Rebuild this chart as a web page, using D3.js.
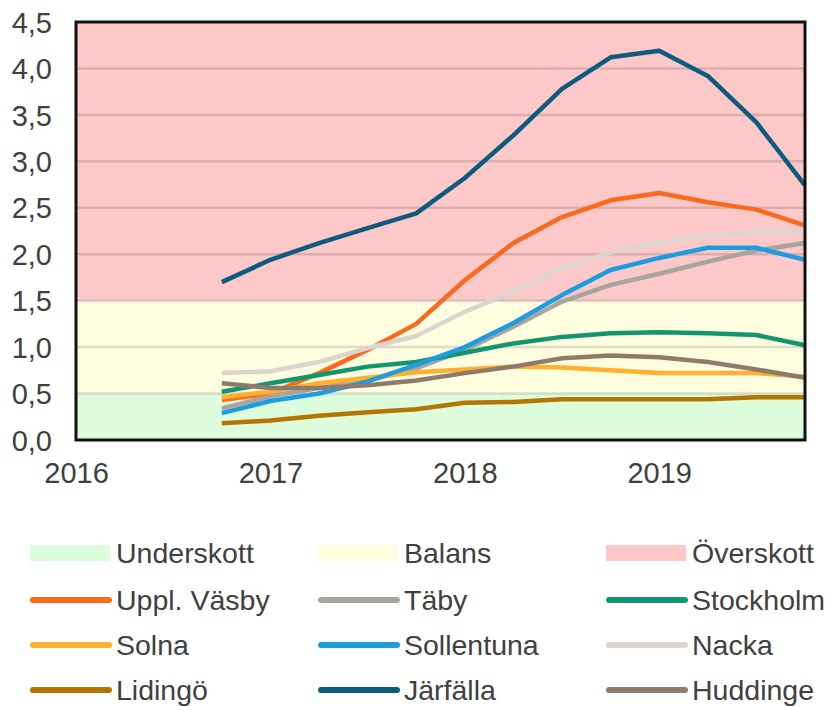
<!DOCTYPE html>
<html>
<head>
<meta charset="utf-8">
<script src="https://cdn.jsdelivr.net/npm/d3@7"></script>
<style>
    body { margin: 0; background: #fff; }
    svg text { font-family: "Liberation Sans", Arial, sans-serif; fill: #404040; }
</style>
</head>
<body>
<svg id="chart" width="834" height="706"></svg>
<script>
// Quarter positions (Q4 2016 .. Q4 2019) in decimal years
const quarters = [2016.75, 2017.0, 2017.25, 2017.5, 2017.75, 2018.0, 2018.25, 2018.5, 2018.75, 2019.0, 2019.25, 2019.5, 2019.75];
const yearTicks = [2016, 2017, 2018, 2019];
const valueTicks = [0, 0.5, 1, 1.5, 2, 2.5, 3, 3.5, 4, 4.5];

const bands = [
    { name: "Underskott", from: 0, to: 0.5, color: "#dcfcdc" },
    { name: "Balans", from: 0.5, to: 1.5, color: "#fffde0" },
    { name: "Överskott", from: 1.5, to: 4.5, color: "#fcc8c8" }
];

const municipalities = ["Uppl. Väsby", "Täby", "Stockholm", "Solna", "Sollentuna", "Nacka", "Lidingö", "Järfälla", "Huddinge"];
const colors = ["#fa6a1e", "#aaa49e", "#12966f", "#ffb02e", "#1d9ddf", "#dcd5cd", "#b57502", "#0d5b7e", "#8f7b6b"];

const upplVasby  = [0.43, 0.50, 0.72, 0.97, 1.25, 1.72, 2.12, 2.40, 2.58, 2.66, 2.56, 2.48, 2.31];
const taby       = [0.34, 0.47, 0.56, 0.64, 0.77, 0.97, 1.22, 1.49, 1.67, 1.79, 1.92, 2.04, 2.12];
const stockholm  = [0.52, 0.61, 0.70, 0.79, 0.84, 0.94, 1.04, 1.11, 1.15, 1.16, 1.15, 1.13, 1.02];
const solna      = [0.46, 0.52, 0.61, 0.67, 0.73, 0.76, 0.79, 0.78, 0.75, 0.72, 0.72, 0.72, 0.68];
const sollentuna = [0.29, 0.42, 0.50, 0.63, 0.81, 1.00, 1.26, 1.56, 1.83, 1.96, 2.07, 2.07, 1.94];
const nacka      = [0.72, 0.74, 0.84, 0.99, 1.12, 1.38, 1.60, 1.85, 2.02, 2.13, 2.20, 2.24, 2.24];
const lidingo    = [0.18, 0.21, 0.26, 0.30, 0.33, 0.40, 0.41, 0.44, 0.44, 0.44, 0.44, 0.46, 0.46];
const jarfalla   = [1.70, 1.94, 2.12, 2.28, 2.44, 2.82, 3.28, 3.78, 4.12, 4.19, 3.92, 3.42, 2.74];
const huddinge   = [0.61, 0.56, 0.56, 0.59, 0.64, 0.72, 0.79, 0.88, 0.91, 0.89, 0.84, 0.76, 0.67];

const seriesValues = [upplVasby, taby, stockholm, solna, sollentuna, nacka, lidingo, jarfalla, huddinge];

const svg = d3.select("#chart");
const plot = { left: 76, right: 805, top: 22, bottom: 440 };

const x = d3.scaleLinear().domain([2016, 2019.75]).range([plot.left, plot.right]);
const y = d3.scaleLinear().domain([0, 4.5]).range([plot.bottom, plot.top]);

const sv = d3.formatLocale({ decimal: ",", thousands: " ", grouping: [3], currency: ["", " kr"] });
const fmt = sv.format(".1f");

// background bands
svg.append("g")
    .selectAll("rect")
    .data(bands)
    .join("rect")
    .attr("x", plot.left)
    .attr("width", plot.right - plot.left)
    .attr("y", d => y(d.to))
    .attr("height", d => y(d.from) - y(d.to))
    .attr("fill", d => d.color);

// gridlines
svg.append("g")
    .selectAll("line")
    .data(valueTicks.slice(1, -1))
    .join("line")
    .attr("x1", plot.left)
    .attr("x2", plot.right)
    .attr("y1", d => y(d))
    .attr("y2", d => y(d))
    .attr("stroke", "rgba(0,0,0,0.13)")
    .attr("stroke-width", 2.5);

// y axis labels
const yAxis = svg.append("g")
    .attr("transform", `translate(${plot.left},0)`)
    .call(d3.axisLeft(y).tickValues(valueTicks).tickFormat(fmt).tickSize(0).tickPadding(24));
yAxis.select(".domain").remove();
yAxis.selectAll("text")
    .attr("font-size", 29)
    .attr("dy", "0.35em")
    .style("fill", "#404040");

// x axis labels
const xAxis = svg.append("g")
    .attr("transform", `translate(0,${plot.bottom})`)
    .call(d3.axisBottom(x).tickValues(yearTicks).tickFormat(d3.format("d")).tickSize(0).tickPadding(0));
xAxis.select(".domain").remove();
xAxis.selectAll("text")
    .attr("font-size", 29)
    .attr("y", 33)
    .attr("dy", "0.35em")
    .style("fill", "#404040");

// series lines
const line = d3.line()
    .x((d, i) => x(quarters[i]))
    .y(d => y(d));

svg.append("g")
    .selectAll("path")
    .data(seriesValues)
    .join("path")
    .attr("d", line)
    .attr("fill", "none")
    .attr("stroke", (d, i) => colors[i])
    .attr("stroke-width", 4.5)
    .attr("stroke-linejoin", "round");

// plot border
svg.append("rect")
    .attr("x", plot.left)
    .attr("y", plot.top)
    .attr("width", plot.right - plot.left)
    .attr("height", plot.bottom - plot.top)
    .attr("fill", "none")
    .attr("stroke", "#111")
    .attr("stroke-width", 3);

// legend
const colX = [30, 318, 606];
const rowY = [553, 600, 645, 690];
const legendItems = bands.map(b => ({ name: b.name, color: b.color, band: true }))
    .concat(municipalities.map((m, i) => ({ name: m, color: colors[i], band: false })));

const legend = svg.append("g")
    .selectAll("g")
    .data(legendItems)
    .join("g")
    .attr("transform", (d, i) => `translate(${colX[i % 3]},${rowY[Math.floor(i / 3)]})`);

legend.filter(d => d.band)
    .append("rect")
    .attr("x", 0)
    .attr("y", -8)
    .attr("width", 80)
    .attr("height", 16)
    .attr("fill", d => d.color);

legend.filter(d => !d.band)
    .append("line")
    .attr("x1", 3)
    .attr("x2", 79)
    .attr("stroke", d => d.color)
    .attr("stroke-width", 6)
    .attr("stroke-linecap", "round");

legend.append("text")
    .attr("x", 86)
    .attr("dy", "0.35em")
    .attr("font-size", 28.5)
    .text(d => d.name);
</script>
</body>
</html>
